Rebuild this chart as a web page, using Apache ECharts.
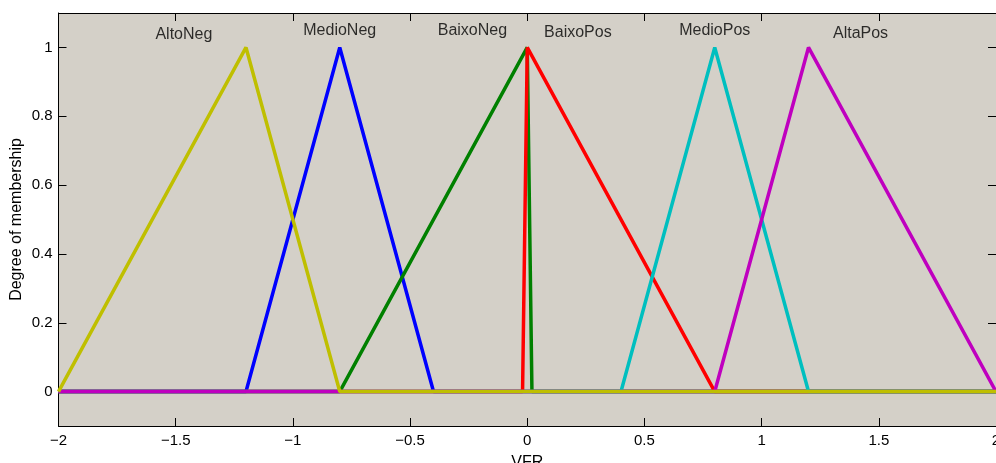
<!DOCTYPE html>
<html>
<head>
<meta charset="utf-8">
<script src="https://cdn.jsdelivr.net/npm/echarts@6/dist/echarts.min.js"></script>
<style>
  html, body { margin: 0; padding: 0; background: #fff; }
  #chart { width: 996px; height: 463px; }
</style>
</head>
<body>
<div id="chart"></div>
<script>
// membership functions (trimf a, b, c) on VFR
const mfNames = ['AltoNeg', 'MedioNeg', 'BaixoNeg', 'BaixoPos', 'MedioPos', 'AltaPos'];
const mfParams = [
  [-2, -1.2, -0.8],
  [-1.2, -0.8, -0.4],
  [-0.8, 0, 0.02],
  [-0.02, 0, 0.8],
  [0.4, 0.8, 1.2],
  [0.8, 1.2, 2]
];
const mfColors = ['#bfbf00', '#0000ff', '#008000', '#ff0000', '#00bfbf', '#bf00bf'];
// where the names are written
const labelX = [-1.465, -0.80, -0.234, 0.216, 0.80, 1.422];
const labelY = [1.036, 1.050, 1.050, 1.042, 1.050, 1.041];
const xRange = [-2, 2];
const yTicks = [0, 0.2, 0.4, 0.6, 0.8, 1];

const font = "'Liberation Sans', Arial, Helvetica, sans-serif";
const chart = echarts.init(document.getElementById('chart'));

// drawing order: yellow last so it lies on top along zero
const drawOrder = [1, 2, 3, 4, 5, 0];

const lineSeries = drawOrder.map(function (i) {
  const p = mfParams[i];
  return {
    name: mfNames[i],
    type: 'line',
    showSymbol: false,
    silent: true,
    lineStyle: { color: mfColors[i], width: 3.5 },
    data: [[xRange[0], 0], [p[0], 0], [p[1], 1], [p[2], 0], [xRange[1], 0]]
  };
});

const labelSeries = {
  type: 'scatter',
  symbolSize: 1,
  silent: true,
  itemStyle: { color: 'transparent' },
  label: {
    show: true,
    position: 'inside',
    color: '#000',
    fontFamily: font,
    fontSize: 16,
    formatter: function (p) { return p.data[2]; }
  },
  data: mfNames.map(function (n, i) { return [labelX[i], labelY[i], n]; })
};

const tickStyle = { show: true, inside: true, length: 8, lineStyle: { color: '#000', width: 1 } };

chart.setOption({
  animation: false,
  backgroundColor: '#fff',
  grid: {
    left: 58.5, right: 0, top: 13, bottom: 37,
    containLabel: false,
    outerBoundsMode: 'none',
    show: true, backgroundColor: '#d4d0c8', borderWidth: 0
  },
  xAxis: [{
    type: 'value',
    min: -2, max: 2, interval: 0.5,
    name: 'VFR',
    nameLocation: 'middle',
    nameGap: 29,
    nameMoveOverlap: false,
    nameTextStyle: { color: '#000', fontFamily: font, fontSize: 16 },
    axisLine: { show: true, onZero: false, lineStyle: { color: '#000', width: 1 } },
    axisTick: tickStyle,
    splitLine: { show: false },
    axisLabel: {
      color: '#000', fontFamily: font, fontSize: 15, margin: 7,
      hideOverlap: false,
      formatter: function (v) { return String(v).replace('-', '\u2212'); }
    }
  }, {
    type: 'value', position: 'top',
    min: -2, max: 2, interval: 0.5,
    axisLine: { show: true, onZero: false, lineStyle: { color: '#000', width: 1 } },
    axisTick: tickStyle,
    axisLabel: { show: false },
    splitLine: { show: false }
  }],
  yAxis: [{
    type: 'value',
    min: -0.1, max: 1.1,
    name: 'Degree of membership',
    nameLocation: 'middle',
    nameGap: 34,
    nameMoveOverlap: false,
    nameTextStyle: { color: '#000', fontFamily: font, fontSize: 16 },
    axisLine: { show: true, onZero: false, lineStyle: { color: '#000', width: 1 } },
    axisTick: Object.assign({ customValues: yTicks }, tickStyle),
    splitLine: { show: false },
    axisLabel: {
      color: '#000', fontFamily: font, fontSize: 15, margin: 6,
      customValues: yTicks,
      formatter: function (v) { return String(+v.toFixed(1)); }
    }
  }, {
    type: 'value', position: 'right',
    min: -0.1, max: 1.1,
    axisLine: { show: true, onZero: false, lineStyle: { color: '#000', width: 1 } },
    axisTick: Object.assign({ customValues: yTicks }, tickStyle),
    axisLabel: { show: false },
    splitLine: { show: false }
  }],
  series: lineSeries.concat([labelSeries])
});
</script>
</body>
</html>
